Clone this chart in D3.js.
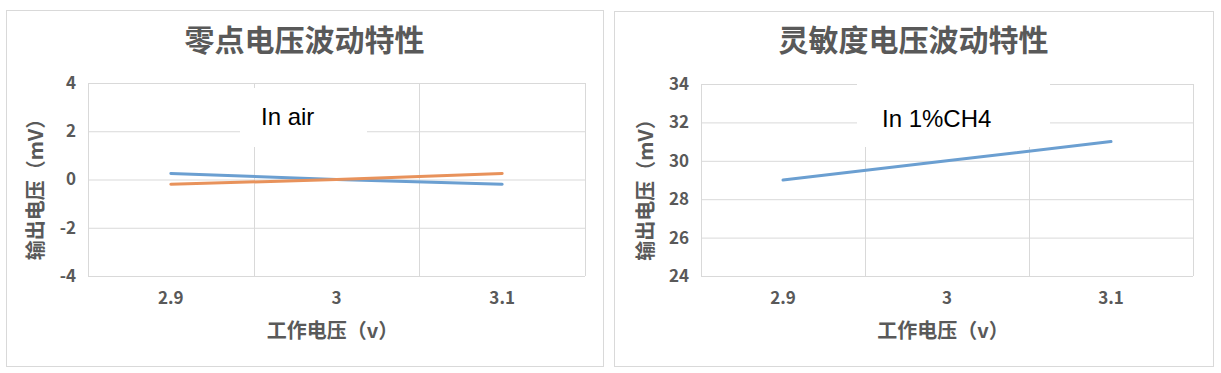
<!DOCTYPE html>
<html>
<head>
<meta charset="utf-8">
<script src="https://cdn.jsdelivr.net/npm/d3@7"></script>
<style>
  body { margin: 0; background: #fff; }
  svg { display: block; }
  text { font-family: "Noto Sans CJK SC", "Noto Sans", sans-serif; }
</style>
</head>
<body>
<div class="charts"></div>
<script>
// values
const voltages = ['2.9', '3', '3.1'];
const zeroBlue = [0.25, 0, -0.2];
const zeroOrange = [-0.2, 0, 0.25];
const zeroTicks = [-4, -2, 0, 2, 4];
const sensBlue = [29, 30, 31];
const sensTicks = [24, 26, 28, 30, 32, 34];

const blue = '#6b9fd1';
const orange = '#e8925b';
const gridColor = '#d9d9d9';
const textColor = '#595959';

const svg = d3.select('.charts').append('svg')
    .attr('width', 1221)
    .attr('height', 373);

const panels = [
    {
        title: '零点电压波动特性', note: 'In air',
        box: [6, 10, 603, 366], plot: [88, 83, 585, 276],
        noteBox: [240, 88, 367, 147], noteX: 261, noteY: 125,
        yTitleX: 38,
        ticks: zeroTicks,
        series: [{ values: zeroBlue, color: blue }, { values: zeroOrange, color: orange }]
    },
    {
        title: '灵敏度电压波动特性', note: 'In 1%CH4',
        box: [614, 11, 1213, 366], plot: [701, 84, 1193, 276],
        noteBox: [857, 76, 1050, 147], noteX: 882, noteY: 127,
        yTitleX: 648,
        ticks: sensTicks,
        series: [{ values: sensBlue, color: blue }]
    }
];

panels.forEach(p => drawPanel(p));

function drawPanel(p) {
    const [bx0, by0, bx1, by1] = p.box;
    const [px0, py0, px1, py1] = p.plot;
    const g = svg.append('g');

    g.append('rect')
        .attr('x', bx0 + 0.5).attr('y', by0 + 0.5)
        .attr('width', bx1 - bx0).attr('height', by1 - by0)
        .attr('fill', '#fff').attr('stroke', gridColor);

    const xScale = d3.scaleBand()
        .domain(voltages)
        .range([px0, px1]);

    const yScale = d3.scaleLinear()
        .domain(d3.extent(p.ticks))
        .range([py1, py0]);

    // horizontal gridlines + tick labels
    const yAxis = g.append('g')
        .attr('transform', `translate(${px0}, 0)`)
        .call(d3.axisLeft(yScale).tickValues(p.ticks).tickSize(-(px1 - px0)).tickPadding(12).tickFormat(d => String(d)));
    yAxis.select('.domain').remove();
    yAxis.selectAll('.tick line').attr('stroke', gridColor);
    yAxis.selectAll('.tick text')
        .attr('fill', textColor).style('font-size', '17px').style('font-weight', 'bold');

    // vertical gridlines between categories
    const bounds = voltages.map(v => xScale(v)).concat([xScale.range()[1]]);
    g.append('g').selectAll('line')
        .data(bounds)
        .join('line')
        .attr('x1', d => Math.round(d) + 0.5).attr('x2', d => Math.round(d) + 0.5)
        .attr('y1', py0).attr('y2', py1)
        .attr('stroke', gridColor);

    // x tick labels
    const xAxis = g.append('g')
        .attr('transform', `translate(0, ${py1})`)
        .call(d3.axisBottom(xScale).tickSize(0).tickPadding(16));
    xAxis.select('.domain').remove();
    xAxis.selectAll('.tick text')
        .attr('fill', textColor).style('font-size', '17px').style('font-weight', 'bold');

    // white note box that hides the grid behind the label
    const [nx0, ny0, nx1, ny1] = p.noteBox;
    g.append('rect')
        .attr('x', nx0).attr('y', ny0)
        .attr('width', nx1 - nx0).attr('height', ny1 - ny0)
        .attr('fill', '#fff');

    const line = d3.line()
        .x((d, i) => xScale(voltages[i]) + xScale.bandwidth() / 2)
        .y(d => yScale(d));

    p.series.forEach(s => {
        g.append('path')
            .datum(s.values)
            .attr('d', line)
            .attr('fill', 'none')
            .attr('stroke', s.color)
            .attr('stroke-width', 3)
            .attr('stroke-linecap', 'round');
    });

    g.append('text')
        .attr('x', p.noteX).attr('y', p.noteY)
        .attr('fill', '#000')
        .style('font-family', '"Liberation Sans", Arial, sans-serif')
        .style('font-size', '24px')
        .text(p.note);

    g.append('text')
        .attr('x', (bx0 + bx1) / 2).attr('y', 43)
        .attr('text-anchor', 'middle').attr('dominant-baseline', 'middle')
        .attr('fill', textColor)
        .style('font-size', '30px').style('font-weight', 'bold')
        .text(p.title);

    g.append('text')
        .attr('x', (px0 + px1) / 2 - 4).attr('y', 333)
        .attr('text-anchor', 'middle').attr('dominant-baseline', 'middle')
        .attr('fill', textColor)
        .style('font-size', '20px').style('font-weight', 'bold')
        .text('工作电压（v）');

    g.append('text')
        .attr('transform', `translate(${p.yTitleX}, ${(py0 + py1) / 2 + 5}) rotate(-90)`)
        .attr('text-anchor', 'middle').attr('dominant-baseline', 'middle')
        .attr('fill', textColor)
        .style('font-size', '20px').style('font-weight', 'bold')
        .text('输出电压（mV）');
}
</script>
</body>
</html>
